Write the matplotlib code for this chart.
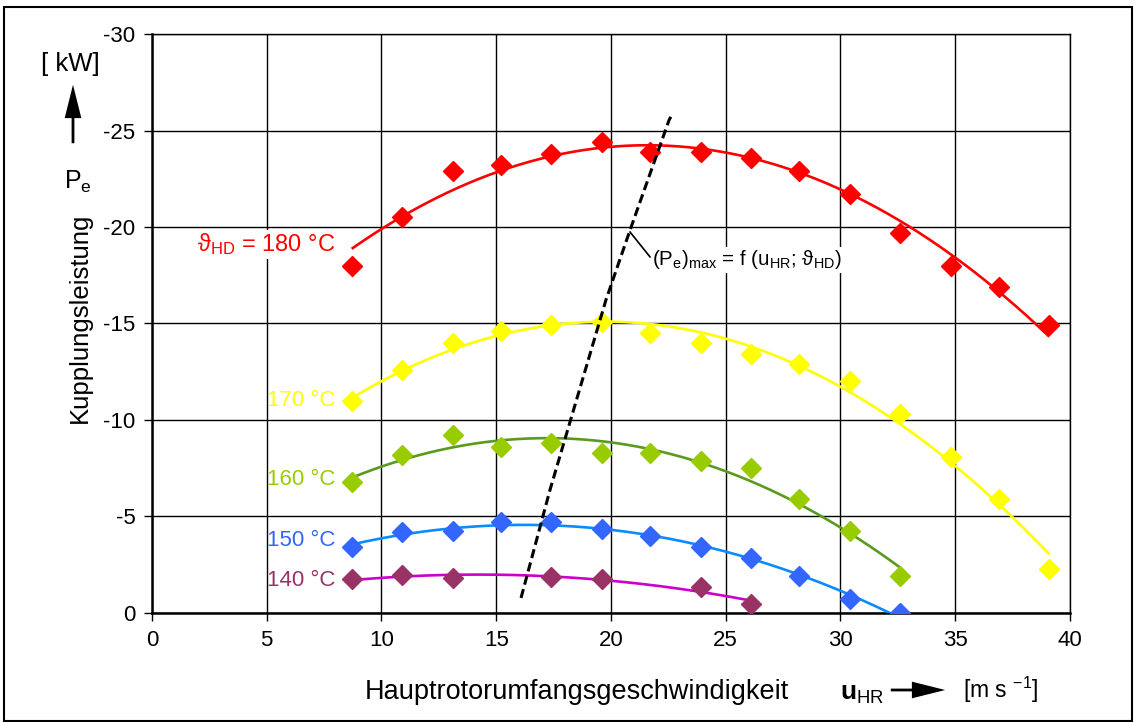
import numpy as np
import matplotlib
matplotlib.use("Agg")
import matplotlib.pyplot as plt
from matplotlib.patches import Rectangle, FancyArrowPatch

plt.rcParams['font.family'] = ['Liberation Sans', 'DejaVu Sans']
plt.rcParams['axes.unicode_minus'] = False
plt.rcParams['mathtext.fontset'] = 'custom'
plt.rcParams['mathtext.rm'] = 'Liberation Sans'
plt.rcParams['mathtext.it'] = 'Liberation Sans:italic'
plt.rcParams['mathtext.bf'] = 'Liberation Sans:bold'
plt.rcParams['mathtext.fallback'] = 'stixsans'

# Hauptrotorumfangsgeschwindigkeit u_HR [m/s]
u_all = [8.7, 10.9, 13.1, 15.2, 17.4, 19.6, 21.7, 23.9, 26.1, 28.2, 30.4, 32.6, 34.8, 36.9, 39.1]
u_140 = [8.7, 10.9, 13.1, 17.4, 19.6, 23.9, 26.1]

# Kupplungsleistung P_e [kW] je Heizdampftemperatur
p_180 = [-18.0, -20.5, -22.9, -23.2, -23.8, -24.4, -23.9, -23.9, -23.6, -22.9, -21.7, -19.7, -18.0, -16.9, -14.9]
p_170 = [-11.0, -12.6, -14.0, -14.6, -14.9, -15.1, -14.5, -14.0, -13.4, -12.9, -12.0, -10.3, -8.1, -5.9, -2.3]
p_160 = [-6.8, -8.2, -9.2, -8.6, -8.8, -8.3, -8.3, -7.9, -7.5, -5.9, -4.25, -1.9]
p_150 = [-3.4, -4.2, -4.25, -4.7, -4.7, -4.35, -4.0, -3.4, -2.85, -1.9, -0.7, 0.0]
p_140 = [-1.75, -1.95, -1.8, -1.85, -1.75, -1.35, -0.45]

# Lage des Leistungsmaximums (P_e)max
max_u = [16.08, 17.34, 19.78, 20.83, 22.53, 22.70]
max_p = [-0.78, -6.37, -16.22, -19.84, -25.54, -25.91]

labels = ['ϑ$_\\mathrm{HD}$ = 180 °C', '170 °C', '160 °C', '150 °C', '140 °C']
x_ticks = [0, 5, 10, 15, 20, 25, 30, 35, 40]
y_ticks = [0, -5, -10, -15, -20, -25, -30]

series = [
    (u_all, p_180, '#FF0000', '#FF0000'),
    (u_all, p_170, '#FFFF00', '#FFFF00'),
    (u_all[:12], p_160, '#99CC00', '#5A9A1E'),
    (u_all[:12], p_150, '#3366FF', '#0A8CFF'),
    (u_140, p_140, '#993366', '#CC00CC'),
]
label_pos = [(8.0, -19.1, '#FF0000', 17), (8.0, -11.0, '#FFFF00', 16),
             (8.0, -6.9, '#99CC00', 16), (8.0, -3.75, '#3366FF', 16),
             (8.0, -1.7, '#993366', 16)]

fig = plt.figure(figsize=(11.36, 7.22), dpi=100)
ax = fig.add_axes([0.1338, 0.151, 0.8081, 0.8019])

for x, y, mcol, lcol in series:
    coef = np.polyfit(x, y, 2)
    xf = np.linspace(x[0], x[-1], 200)
    ax.plot(xf, np.polyval(coef, xf), color=lcol, lw=1.9, zorder=3, solid_capstyle='butt')
    ax.plot(x, y, ls='none', marker='D', ms=10, color=mcol, mec=mcol, zorder=4)

ax.plot(max_u, max_p, color='black', lw=2.2, ls=(0, (3, 1.5)), zorder=5)

ax.set_xlim(0, 40)
ax.set_ylim(0, -30)
ax.set_xticks(x_ticks)
ax.set_yticks(y_ticks)
ax.set_yticklabels([str(v) for v in y_ticks])
ax.grid(True, color='black', lw=1.0)
ax.set_axisbelow(True)
ax.tick_params(direction='out', length=6, width=1, labelsize=16, pad=6, colors='black')
for s in ['top', 'right']:
    ax.spines[s].set_linewidth(1.0)
for s in ['left', 'bottom']:
    ax.spines[s].set_linewidth(1.8)

# Kurvenbeschriftungen
for i, (lx, ly, col, fs) in enumerate(label_pos):
    kw = dict(bbox=dict(fc='white', ec='none', pad=1)) if i == 0 else {}
    ax.text(lx, ly, labels[i], color=col, fontsize=fs, ha='right', va='center', zorder=6, **kw)

# Beschriftung der Maximumlinie
ax.plot([20.83, 21.7], [-19.74, -18.45], color='black', lw=1.2, zorder=5)
ax.text(21.8, -18.3, '(P$_\\mathrm{e}$)$_\\mathrm{max}$ = f (u$_\\mathrm{HR}$; ϑ$_\\mathrm{HD}$)',
        fontsize=14.8, ha='left', va='center', color='black',
        bbox=dict(fc='white', ec='none', pad=1), zorder=6)

# Achsenbeschriftungen
arrow_style = 'Simple,head_length=2.4,head_width=1.2,tail_width=0.2'
fig.text(80 / 1136, 1 - 318 / 722, 'Kupplungsleistung', rotation=90, fontsize=18.5,
         ha='center', va='center')
fig.text(78 / 1136, 1 - 182 / 722, 'P$_\\mathrm{e}$', fontsize=18, ha='center', va='center')
fig.text(70 / 1136, 1 - 64 / 722, '[ kW]', fontsize=18.5, ha='center', va='center')
fig.add_artist(FancyArrowPatch(
    (73 / 1136, 1 - 146 / 722), (73 / 1136, 1 - 82 / 722), transform=fig.transFigure,
    arrowstyle=arrow_style, mutation_scale=10, lw=0, color='black'))

fig.text(577 / 1136, 1 - 692 / 722, 'Hauptrotorumfangsgeschwindigkeit', fontsize=19.5,
         ha='center', va='center')
fig.text(862 / 1136, 1 - 694 / 722, '$\\mathbf{u}_\\mathrm{HR}$', fontsize=19,
         ha='center', va='center')
fig.add_artist(FancyArrowPatch(
    (888 / 1136, 1 - 690 / 722), (948 / 1136, 1 - 690 / 722), transform=fig.transFigure,
    arrowstyle=arrow_style, mutation_scale=10, lw=0, color='black'))
fig.text(1001 / 1136, 1 - 690 / 722, '[m s $^\\mathrm{-1}$]', fontsize=16.5, ha='center', va='center')

fig.add_artist(Rectangle((4 / 1136, 1 / 722), 1128 / 1136, 714 / 722, transform=fig.transFigure,
                         fill=False, ec='black', lw=1.5))

fig.savefig('out.png', dpi=100)
